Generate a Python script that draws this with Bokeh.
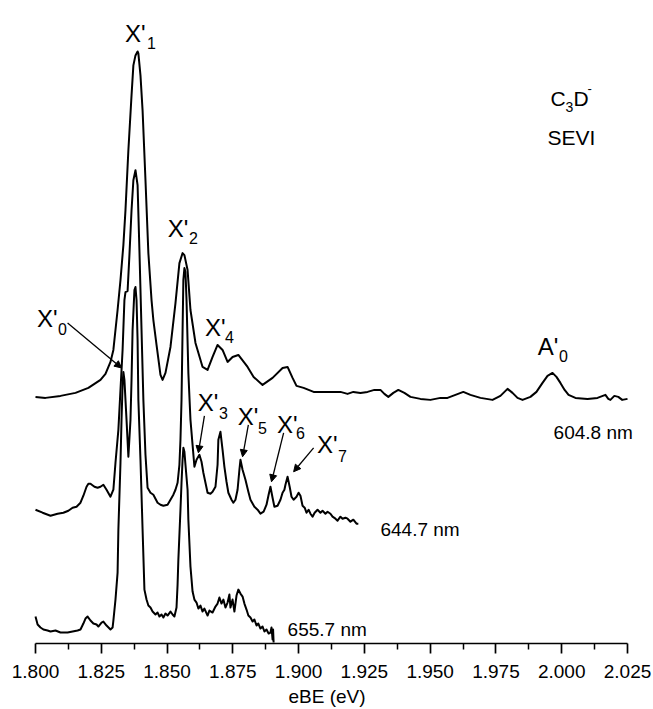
from bokeh.plotting import figure
from bokeh.models import Range1d, FixedTicker, PrintfTickFormatter, Label, Arrow, NormalHead
from bokeh.embed import file_html
from bokeh.resources import INLINE

# ---------------- data (eBE in eV, intensity in arb. units) ----------------
ev_604 = [1.8000, 1.8038, 1.8095, 1.8152, 1.8201, 1.8247, 1.8266, 1.8285, 1.8296, 1.8312,
          1.8323, 1.8334, 1.8342, 1.8353, 1.8365, 1.8372, 1.8380, 1.8388, 1.8391, 1.8399,
          1.8407, 1.8418, 1.8429, 1.8441, 1.8448, 1.8460, 1.8475, 1.8483, 1.8494, 1.8513,
          1.8532, 1.8547, 1.8559, 1.8566, 1.8578, 1.8589, 1.8608, 1.8635, 1.8654, 1.8673,
          1.8692, 1.8711, 1.8730, 1.8749, 1.8771, 1.8806, 1.8829, 1.8863, 1.8901, 1.8939,
          1.8958, 1.8977, 1.8992, 1.9019, 1.9057, 1.9091, 1.9121, 1.9159, 1.9186, 1.9208,
          1.9235, 1.9262, 1.9288, 1.9311, 1.9326, 1.9341, 1.9360, 1.9379, 1.9402, 1.9425,
          1.9463, 1.9501, 1.9539, 1.9566, 1.9596, 1.9626, 1.9653, 1.9691, 1.9737, 1.9767,
          1.9794, 1.9813, 1.9832, 1.9851, 1.9881, 1.9904, 1.9927, 1.9946, 1.9965, 1.9980,
          1.9995, 2.0011, 2.0026, 2.0052, 2.0098, 2.0136, 2.0166, 2.0177, 2.0185, 2.0200,
          2.0215, 2.0230, 2.0250]
int_604 = [0, -1, 1, 4, 9, 17, 23, 35, 47, 87,
           117, 152, 187, 247, 302, 332, 342, 346, 344, 322,
           287, 217, 144, 97, 77, 52, 22, 17, 24, 50,
           94, 134, 144, 142, 127, 87, 54, 30, 27, 40,
           52, 47, 35, 40, 42, 30, 20, 12, 19, 29,
           30, 19, 11, 9, 5, 5, 5, 5, 3, 5,
           4, 5, 7, 7, 3, 0, 4, 7, 4, 0,
           -2, -3, -1, -1, 2, 5, 2, -1, -3, 1,
           8, 4, -1, -3, 0, 5, 14, 21, 24, 20,
           14, 7, 2, -1, -2, -1, 2, -2, -3, 1,
           0, -3, -2]

ev_644 = [1.8000, 1.8027, 1.8057, 1.8084, 1.8106, 1.8125, 1.8141, 1.8156, 1.8171, 1.8182,
          1.8194, 1.8201, 1.8209, 1.8224, 1.8236, 1.8247, 1.8258, 1.8270, 1.8285, 1.8296,
          1.8304, 1.8315, 1.8323, 1.8331, 1.8338, 1.8342, 1.8350, 1.8357, 1.8365, 1.8372,
          1.8380, 1.8388, 1.8395, 1.8403, 1.8410, 1.8418, 1.8426, 1.8437, 1.8448, 1.8464,
          1.8475, 1.8486, 1.8502, 1.8513, 1.8524, 1.8532, 1.8540, 1.8547, 1.8551, 1.8555,
          1.8559, 1.8562, 1.8566, 1.8570, 1.8574, 1.8581, 1.8589, 1.8597, 1.8604, 1.8612,
          1.8623, 1.8631, 1.8638, 1.8654, 1.8665, 1.8673, 1.8684, 1.8692, 1.8695, 1.8703,
          1.8711, 1.8718, 1.8726, 1.8733, 1.8745, 1.8752, 1.8760, 1.8768, 1.8775, 1.8779,
          1.8787, 1.8798, 1.8809, 1.8817, 1.8832, 1.8844, 1.8855, 1.8867, 1.8878, 1.8886,
          1.8893, 1.8901, 1.8908, 1.8920, 1.8931, 1.8939, 1.8946, 1.8950, 1.8958, 1.8966,
          1.8973, 1.8981, 1.8992, 1.9000, 1.9007, 1.9015, 1.9023, 1.9030, 1.9038, 1.9045,
          1.9053, 1.9061, 1.9072, 1.9083, 1.9091, 1.9102, 1.9110, 1.9121, 1.9129, 1.9140,
          1.9148, 1.9159, 1.9167, 1.9178, 1.9186, 1.9197, 1.9208, 1.9220, 1.9227]
int_644 = [0, -3, -6, -4, -3, -1, 2, 3, 7, 14,
           23, 26, 26, 23, 22, 23, 25, 20, 13, 20,
           47, 80, 120, 160, 210, 218, 219, 255, 300, 330,
           340, 325, 260, 180, 110, 55, 22, 17, 15, 7,
           5, 4, 5, 10, 15, 20, 27, 45, 70, 110,
           180, 230, 242, 238, 210, 137, 90, 65, 43, 50,
           55, 48, 37, 17, 16, 18, 23, 45, 70, 78,
           60, 43, 28, 17, 10, 7, 10, 20, 40, 50,
           40, 30, 18, 10, 3, 0, -4, -2, 5, 15,
           23, 12, 3, 4, 10, 17, 20, 25, 33, 23,
           13, 10, 13, 17, 14, 4, 2, -3, 0, -4,
           -7, -3, 0, -3, -1, -4, -2, -4, -7, -9,
           -11, -7, -9, -8, -9, -12, -10, -14, -14]

ev_655 = [1.8000, 1.8008, 1.8019, 1.8030, 1.8046, 1.8057, 1.8076, 1.8095, 1.8122, 1.8141,
          1.8160, 1.8171, 1.8182, 1.8190, 1.8198, 1.8209, 1.8220, 1.8232, 1.8239, 1.8251,
          1.8258, 1.8270, 1.8285, 1.8293, 1.8296, 1.8304, 1.8312, 1.8315, 1.8323, 1.8327,
          1.8331, 1.8334, 1.8338, 1.8346, 1.8353, 1.8361, 1.8365, 1.8369, 1.8376, 1.8380,
          1.8384, 1.8388, 1.8391, 1.8399, 1.8407, 1.8414, 1.8422, 1.8429, 1.8437, 1.8445,
          1.8456, 1.8464, 1.8471, 1.8479, 1.8486, 1.8494, 1.8502, 1.8513, 1.8521, 1.8528,
          1.8536, 1.8540, 1.8543, 1.8551, 1.8555, 1.8559, 1.8562, 1.8566, 1.8570, 1.8578,
          1.8581, 1.8589, 1.8597, 1.8604, 1.8612, 1.8619, 1.8627, 1.8635, 1.8642, 1.8654,
          1.8661, 1.8673, 1.8684, 1.8692, 1.8699, 1.8707, 1.8714, 1.8722, 1.8730, 1.8737,
          1.8741, 1.8749, 1.8756, 1.8764, 1.8771, 1.8779, 1.8787, 1.8794, 1.8802, 1.8809,
          1.8817, 1.8825, 1.8832, 1.8840, 1.8847, 1.8855, 1.8863, 1.8870, 1.8878, 1.8886,
          1.8893, 1.8897, 1.8901, 1.8903, 1.8905]
int_655 = [13, 5, 2, 0, -1, -2, -1, -3, -3, -2,
           -1, 0, 6, 11, 13, 9, 6, 5, 3, 7,
           8, 4, 0, 2, 9, 30, 57, 100, 167, 210,
           245, 258, 250, 210, 173, 210, 250, 300, 340, 343,
           330, 290, 230, 170, 100, 40, 30, 24, 22, 18,
           15, 17, 13, 15, 12, 16, 14, 18, 15, 13,
           22, 45, 70, 120, 147, 170, 182, 178, 165, 140,
           110, 63, 38, 30, 27, 21, 24, 18, 21, 14,
           19, 17, 23, 26, 32, 26, 30, 22, 27, 35,
           22, 30, 18, 34, 40, 36, 33, 26, 20, 14,
           12, 8, 10, 4, 6, 1, 3, -2, 0, -4,
           -3, 2, -10, 0, -13]

trace_names = ["604.8 nm", "644.7 nm", "655.7 nm"]
trace_offsets = [247, 134, 14]

tick_values = [1.800, 1.825, 1.850, 1.875, 1.900, 1.925, 1.950, 1.975, 2.000, 2.025]
minor_values = [1.8125, 1.8375, 1.8625, 1.8875, 1.9125, 1.9375, 1.9625, 1.9875, 2.0125]

FONT = "Liberation Sans"

# frame spans the whole page width; the axis itself is bounded to 1.800-2.025
p = figure(width=653, height=709, x_range=Range1d(1.78670, 2.03488), y_range=Range1d(0, 644),
           output_backend="svg", toolbar_location=None, y_axis_location=None,
           min_border_left=0, min_border_right=0, min_border_top=0, min_border_bottom=65)
p.outline_line_color = None
p.grid.visible = False
p.background_fill_color = "white"
p.border_fill_color = "white"

for ev, inten, off in zip([ev_604, ev_644, ev_655], [int_604, int_644, int_655], trace_offsets):
    p.line(ev, [v + off for v in inten], line_color="black", line_width=2.0, line_join="round")

ax = p.xaxis[0]
ax.bounds = (tick_values[0], tick_values[-1])
ax.ticker = FixedTicker(ticks=tick_values, minor_ticks=minor_values)
ax.formatter = PrintfTickFormatter(format="%.3f")
ax.axis_label = "eBE (eV)"
ax.axis_label_text_font = FONT
ax.axis_label_text_font_size = "19px"
ax.axis_label_text_font_style = "normal"
ax.axis_label_standoff = 5
ax.major_label_text_font = FONT
ax.major_label_text_font_size = "19px"
ax.major_label_standoff = 11
ax.axis_line_width = 1.7
ax.major_tick_line_width = 1.7
ax.minor_tick_line_width = 1.5
ax.major_tick_in = 0
ax.major_tick_out = 10
ax.minor_tick_in = 0
ax.minor_tick_out = 6
ax.axis_line_color = "black"
ax.major_tick_line_color = "black"
ax.minor_tick_line_color = "black"
ax.major_label_text_color = "black"
ax.axis_label_text_color = "black"


def lab(x, y, text, size):
    p.add_layout(Label(x=x, y=y, text=text, text_font=FONT, text_font_size=size,
                       text_color="black", text_align="left", text_baseline="alphabetic"))


# peak labels: (main text x, y, sub x, sub y, main, sub)
peak_labels = [
    (1.8340, 611, 1.8424, 601, "X'", "1"),
    (1.8503, 416, 1.8583, 406, "X'", "2"),
    (1.8006, 326, 1.8086, 315, "X'", "0"),
    (1.8644, 316, 1.8720, 307, "X'", "4"),
    (1.8617, 241, 1.8697, 231, "X'", "3"),
    (1.8769, 227, 1.8846, 216, "X'", "5"),
    (1.8918, 219, 1.8990, 211, "X'", "6"),
    (1.9070, 199, 1.9150, 188, "X'", "7"),
    (1.9909, 297, 1.9990, 288, "A'", "0"),
]
for mx, my, sx, sy, mt, st in peak_labels:
    lab(mx, my, mt, "24px")
    lab(sx, sy, st, "16px")

# species label C3D- / SEVI
lab(1.9957, 546, "C", "21px")
lab(2.0014, 537, "3", "14px")
lab(2.0045, 546, "D", "21px")
lab(2.0098, 556, "-", "13px")
lab(1.9946, 507, "SEVI", "21px")

# wavelength labels
lab(1.9969, 211, trace_names[0], "19px")
lab(1.9311, 114, trace_names[1], "19px")
lab(1.8958, 14, trace_names[2], "19px")

# arrows (start x, start y, end x, end y)
arrows = [
    (1.8122, 321, 1.8327, 276),
    (1.8642, 228, 1.8619, 191),
    (1.8809, 219, 1.8787, 187),
    (1.8943, 211, 1.8897, 162),
    (1.9057, 196, 1.8981, 172),
]
for xs, ys, xe, ye in arrows:
    p.add_layout(Arrow(end=NormalHead(size=7, fill_color="black", line_color="black", line_width=1),
                       x_start=xs, y_start=ys, x_end=xe, y_end=ye,
                       line_color="black", line_width=1.3))

open("out.html", "w").write(file_html(p, INLINE))
